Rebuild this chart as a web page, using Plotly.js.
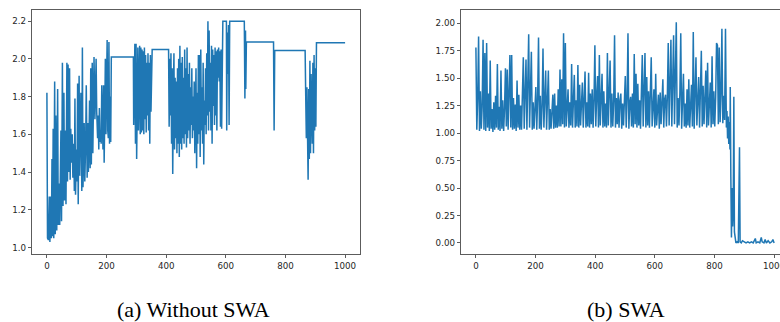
<!DOCTYPE html>
<html><head><meta charset="utf-8">
<script src="https://cdn.plot.ly/plotly-3.0.1.min.js"></script>
<style>html,body{margin:0;padding:0;overflow:hidden;background:#fff}#chart{width:790px;height:322px}</style>
</head><body><div id="chart"></div>
<script>
const iterTicks = [0, 200, 400, 600, 800, 1000];
const leftTicks = [1.0, 1.2, 1.4, 1.6, 1.8, 2.0, 2.2];
const rightTicks = [0, 0.25, 0.5, 0.75, 1.0, 1.25, 1.5, 1.75, 2.0];
const captionA = '(a) Without SWA';
const captionB = '(b) SWA';

// (a) Without SWA
const noSwaX = [
  0,2,5,8,10,13,15,17,19,21,
  23,26,28,30,33,36,38,41,43,47,
  49,52,54,57,59,62,64,67,69,71,
  73,76,78,80,82,85,87,90,92,94,
  96,99,101,103,105,108,110,112,114,117,
  119,121,123,125,127,130,132,135,137,139,
  141,143,145,147,149,152,154,156,158,161,
  163,165,167,170,172,174,176,178,180,182,
  184,186,188,190,192,194,196,198,200,202,
  204,206,208,210,212,214,216,290,
  291,293,295,297,299,301,303,305,307,309,
  311,313,315,317,319,321,323,325,327,329,
  331,333,335,337,339,341,343,345,347,349,
  351,353,
  408,410,412,414,416,418,420,422,424,426,
  428,430,432,434,436,438,440,442,444,446,
  448,450,452,454,456,458,460,462,464,466,
  468,470,472,474,476,478,480,482,484,486,
  488,490,492,494,496,498,500,502,504,506,
  508,510,512,514,516,518,520,522,524,526,
  528,530,532,534,536,538,540,542,544,546,
  548,550,552,554,556,558,560,562,564,566,
  568,570,572,574,576,578,580,582,584,586,
  588,590,602,603,605,607,609,611,613,662,
  664,666,667,669,760,762,764,866,
  868,870,872,874,876,878,880,882,884,886,
  888,890,892,894,896,898,900,902,904,1000
];
const noSwaY = [
  1.82,1.05,1.04,1.27,1.03,1.27,1.05,1.47,1.06,1.63,
  1.05,1.88,1.07,1.70,1.09,1.84,1.12,1.34,1.12,1.62,
  1.14,1.98,1.22,1.82,1.25,1.62,1.23,1.98,1.35,1.97,
  1.40,1.95,1.36,1.63,1.45,1.60,1.37,1.55,1.30,1.79,
  1.28,1.52,1.35,1.87,1.23,1.91,1.38,1.60,1.82,1.30,
  2.06,1.32,1.60,1.66,1.35,1.55,1.86,1.37,1.66,1.40,
  1.55,1.78,1.42,1.95,1.44,1.98,1.50,1.75,2.01,1.68,
  1.90,2.00,1.72,1.58,1.70,1.52,1.74,1.56,1.62,1.55,
  1.86,1.60,1.52,1.86,1.45,1.70,2.00,1.60,1.78,2.10,
  1.62,1.58,2.09,1.55,1.80,1.56,2.01,2.01,
  1.65,2.07,2.08,1.55,2.08,1.47,1.90,2.06,1.62,2.04,
  2.07,1.60,2.06,1.61,2.05,1.62,2.04,1.60,2.06,1.68,
  2.02,1.61,1.98,1.70,2.03,1.62,1.98,1.55,2.02,1.72,
  1.90,2.05,
  2.05,1.64,2.00,1.70,2.03,1.55,1.95,1.39,1.80,2.03,
  1.52,1.90,1.58,1.88,1.50,1.95,1.55,2.00,1.48,2.07,
  1.55,1.98,1.52,2.01,1.58,1.90,1.55,2.05,1.60,1.95,
  1.53,2.06,1.58,1.92,1.62,1.98,1.55,1.85,1.65,1.95,
  1.58,1.80,1.62,1.88,1.50,1.75,1.95,1.42,1.82,1.55,
  2.02,1.60,2.02,1.48,2.05,1.62,1.85,1.55,1.98,1.44,
  1.78,1.65,1.95,1.60,2.03,1.70,2.20,1.62,2.15,1.72,
  1.98,1.62,2.07,1.55,2.05,1.75,2.02,1.65,2.06,1.70,
  2.04,1.62,2.05,1.90,2.06,1.88,2.04,1.64,2.05,1.63,
  2.06,2.20,2.20,1.62,2.14,1.92,2.18,1.65,2.20,2.20,
  1.79,2.15,1.84,2.09,2.09,1.62,2.045,2.045,
  1.80,1.58,1.85,1.60,1.36,1.84,1.47,1.99,1.50,1.92,
  1.62,1.55,1.98,1.50,2.02,1.62,1.95,1.64,2.085,2.085
];

// (b) SWA : dense part sampled every 3 iterations from 0 to 840
const swaStep = 3;
const swaDenseY = [
  1.78,1.03,1.32,1.88,1.02,1.38,1.04,1.24,1.85,1.03,
  1.73,1.02,1.82,1.05,1.36,1.02,1.66,1.04,1.22,1.01,
  1.28,1.03,1.34,1.05,1.63,1.03,1.24,1.02,1.57,1.04,
  1.30,1.02,1.22,1.59,1.06,1.58,1.03,1.28,1.71,1.05,
  1.71,1.03,1.32,1.04,1.26,1.02,1.48,1.05,1.35,1.03,
  1.25,1.03,1.30,1.69,1.04,1.27,1.67,1.03,1.34,1.90,
  1.05,1.36,1.74,1.03,1.28,1.04,1.24,1.42,1.03,1.31,
  1.87,1.04,1.34,1.03,1.25,1.77,1.05,1.30,1.57,1.03,
  1.27,1.57,1.03,1.22,1.04,1.29,1.35,1.04,1.36,1.05,
  1.25,1.05,1.40,1.06,1.58,1.06,1.49,1.08,1.91,1.05,
  1.82,1.06,1.32,1.40,1.05,1.28,1.07,1.63,1.05,1.34,
  1.53,1.05,1.30,1.06,1.62,1.05,1.44,1.07,1.27,1.46,
  1.05,1.32,1.56,1.05,1.28,1.06,1.55,1.05,1.36,1.08,
  1.40,1.05,1.30,1.80,1.06,1.34,1.52,1.05,1.71,1.07,
  1.31,1.54,1.05,1.38,1.06,1.27,1.05,1.73,1.07,1.32,
  1.66,1.05,1.36,1.06,1.28,1.89,1.05,1.32,1.08,1.37,
  1.05,1.30,1.36,1.04,1.27,1.07,1.34,1.52,1.05,1.31,
  1.91,1.04,1.28,1.33,1.06,1.36,1.05,1.72,1.08,1.54,
  1.05,1.45,1.07,1.30,1.04,1.34,1.71,1.06,1.31,1.73,
  1.05,1.51,1.07,1.38,1.05,1.28,1.69,1.06,1.32,1.40,
  1.05,1.54,1.07,1.27,1.35,1.04,1.37,1.08,1.30,1.49,
  1.05,1.31,1.35,1.06,1.33,1.82,1.07,1.42,1.85,1.06,
  1.50,1.89,1.08,1.82,2.01,1.05,1.32,1.07,1.36,1.91,
  1.04,1.30,1.54,1.06,1.27,1.05,1.40,1.07,1.49,1.05,
  1.32,1.44,1.06,1.92,1.04,1.36,1.69,1.07,1.30,1.51,
  1.05,1.34,1.75,1.06,1.43,1.08,1.31,1.57,1.05,1.64,
  1.07,1.36,1.46,1.05,1.70,1.08,1.38,1.06,1.32,1.82,
  1.80,1.08,1.78,1.10,1.36,1.95,1.09,1.34,1.12,1.95,
  1.05
];
const swaTailX = [
  842,844,846,848,850,852,853,855,857,859,
  861,863,865,867,869,872,876,880,884,886,
  890,894,900,906,912,918,924,930,937,940,
  946,952,957,960,966,970,974,980,986,992,
  996,1000
];
const swaTailY = [
  1.20,0.95,1.15,0.90,1.10,0.85,1.42,0.60,0.05,0.50,
  0.15,0.30,1.33,0.10,0.02,0.00,0.01,0.00,0.87,0.01,
  0.00,0.02,0.01,0.00,0.01,0.00,0.01,0.00,0.04,0.00,
  0.01,0.00,0.05,0.01,0.00,0.03,0.00,0.02,0.00,0.01,
  0.03,0.00
];
const swaX = swaDenseY.map((_, i) => i * swaStep).concat(swaTailX);
const swaY = swaDenseY.concat(swaTailY);

const W = 790, H = 322;
const lineStyle = {color: '#1f77b4', width: 1.5};
const tickFont = {family: 'DejaVu Sans', size: 8.7, color: '#262626'};
const axisCommon = {
  showgrid: false, zeroline: false, showline: true, mirror: true,
  linecolor: '#333', linewidth: 0.8, ticks: 'outside', ticklen: 3.5,
  tickwidth: 0.8, tickcolor: '#333', tickfont: tickFont, fixedrange: true
};
const yDom = [(H - 254) / H, (H - 10) / H];

const data = [
  {x: noSwaX, y: noSwaY, type: 'scatter', mode: 'lines', line: lineStyle, xaxis: 'x', yaxis: 'y', hoverinfo: 'skip'},
  {x: swaX, y: swaY, type: 'scatter', mode: 'lines', line: lineStyle, xaxis: 'x2', yaxis: 'y2', hoverinfo: 'skip'}
];
const layout = {
  width: W, height: H, showlegend: false,
  margin: {l: 0, r: 0, t: 0, b: 0},
  paper_bgcolor: '#fff', plot_bgcolor: '#fff',
  xaxis: Object.assign({}, axisCommon, {domain: [32 / W, 360 / W], range: [-50, 1050], tickvals: iterTicks, anchor: 'y'}),
  yaxis: Object.assign({}, axisCommon, {domain: yDom, range: [0.966, 2.259], tickvals: leftTicks, tickformat: '.1f', anchor: 'x'}),
  xaxis2: Object.assign({}, axisCommon, {domain: [461 / W, 789 / W], range: [-50, 1050], tickvals: iterTicks, anchor: 'y2'}),
  yaxis2: Object.assign({}, axisCommon, {domain: yDom, range: [-0.101, 2.121], tickvals: rightTicks, tickformat: '.2f', anchor: 'x2'}),
  annotations: [
    {text: captionA, xref: 'paper', yref: 'paper', x: 193 / W, y: (H - 309) / H, xanchor: 'center', yanchor: 'middle', showarrow: false,
     font: {family: 'Liberation Serif', size: 22, color: '#000'}},
    {text: captionB, xref: 'paper', yref: 'paper', x: 626 / W, y: (H - 309) / H, xanchor: 'center', yanchor: 'middle', showarrow: false,
     font: {family: 'Liberation Serif', size: 22, color: '#000'}}
  ]
};
Plotly.newPlot('chart', data, layout, {displayModeBar: false, staticPlot: true});
</script>
</body></html>
